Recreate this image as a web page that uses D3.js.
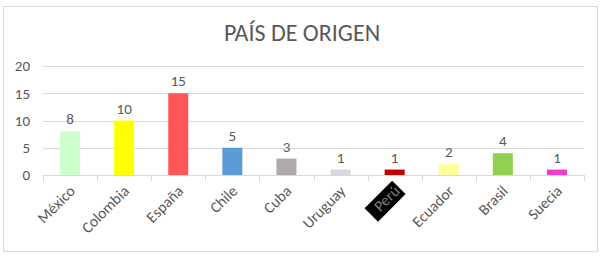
<!DOCTYPE html>
<html>
<head>
<meta charset="utf-8">
<script src="https://cdn.jsdelivr.net/npm/d3@7"></script>
<style>
  body { margin: 0; background: #fff; }
  svg text { font-family: Calibri, Carlito, "Open Sans", sans-serif; fill: #595959; }
</style>
</head>
<body>
<div id="chart"></div>
<script>
// datos
const paises = ["México", "Colombia", "España", "Chile", "Cuba", "Uruguay", "Perú", "Ecuador", "Brasil", "Suecia"];
const valores = [8, 10, 15, 5, 3, 1, 1, 2, 4, 1];
const colores = ["#ccffcc", "#ffff00", "#ff5757", "#5b9bd5", "#aeaaaa", "#d9d9d9", "#c00000", "#ffff99", "#92d050", "#f03ccd"];
const ticksY = [0, 5, 10, 15, 20];

const W = 604, H = 260;
const svg = d3.select("#chart").append("svg").attr("width", W).attr("height", H);

// marco
svg.append("rect").attr("x", 3.5).attr("y", 6.5).attr("width", 594).attr("height", 245)
    .attr("fill", "#fff").attr("stroke", "#d9d9d9");

svg.append("text").attr("x", 302).attr("y", 41).attr("text-anchor", "middle")
    .style("font-size", "24px").text("PAÍS DE ORIGEN");

const x = d3.scaleBand().domain(paises).range([43, 584]).paddingInner(0.63).paddingOuter(0.315);
const y = d3.scaleLinear().domain([0, 20]).range([175, 66]);

// rejilla
svg.append("g").selectAll("line").data(ticksY.slice(1)).join("line")
    .attr("x1", 43).attr("x2", 584)
    .attr("y1", d => Math.round(y(d)) + 0.5).attr("y2", d => Math.round(y(d)) + 0.5)
    .attr("stroke", "#d9d9d9");

const yAxis = svg.append("g").attr("transform", "translate(43,0)")
    .call(d3.axisLeft(y).tickValues(ticksY).tickSize(0).tickPadding(13));
yAxis.select(".domain").remove();
yAxis.selectAll("text").style("font-size", "15px").attr("fill", null);

// barras
svg.append("g").selectAll("rect").data(valores).join("rect")
    .attr("x", (d, i) => x(paises[i]))
    .attr("y", d => y(d))
    .attr("width", x.bandwidth())
    .attr("height", d => y(0) - y(d))
    .attr("fill", (d, i) => colores[i]);

svg.append("g").selectAll("text").data(valores).join("text")
    .attr("x", (d, i) => x(paises[i]) + x.bandwidth() / 2)
    .attr("y", d => y(d) - 7)
    .attr("text-anchor", "middle")
    .style("font-size", "15px")
    .text(d => d);

// eje x
const bordes = d3.range(paises.length + 1).map(i => 43 + i * (541 / paises.length));
svg.append("line").attr("x1", 43).attr("x2", 584).attr("y1", 175.5).attr("y2", 175.5).attr("stroke", "#d9d9d9");
svg.append("g").selectAll("line").data(bordes).join("line")
    .attr("x1", d => Math.round(d) + 0.5).attr("x2", d => Math.round(d) + 0.5)
    .attr("y1", 175).attr("y2", 181).attr("stroke", "#d9d9d9");

const etiquetas = svg.append("g").selectAll("g").data(paises).join("g")
    .attr("transform", d => `translate(${x(d) + x.bandwidth() / 2 + 6},${192}) rotate(-45)`);
etiquetas.filter(d => d === "Perú").append("rect")
    .attr("x", -37).attr("y", -14).attr("width", 39).attr("height", 19).attr("fill", "#000");
etiquetas.append("text")
    .attr("text-anchor", "end")
    .style("font-size", "15.5px")
    .style("fill", d => d === "Perú" ? "#7f7f7f" : null)
    .text(d => d);
</script>
</body>
</html>
